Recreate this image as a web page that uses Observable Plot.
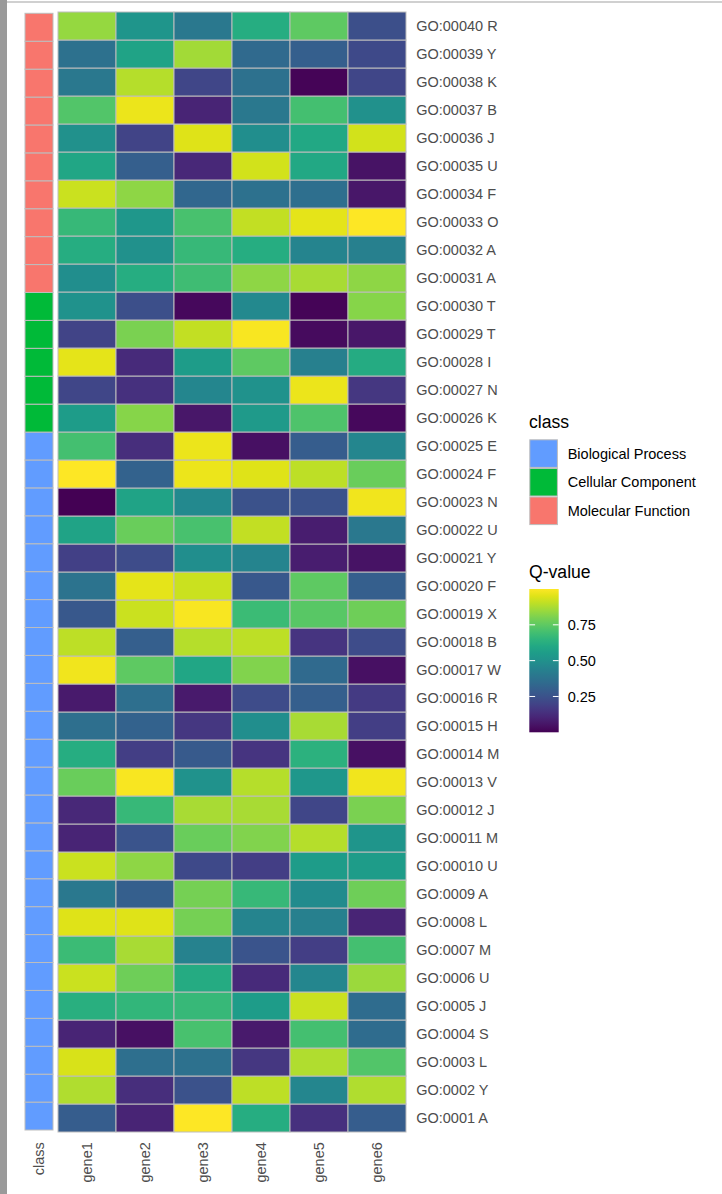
<!DOCTYPE html>
<html><head><meta charset="utf-8">
<script src="https://cdn.jsdelivr.net/npm/d3@7"></script>
<script src="https://cdn.jsdelivr.net/npm/@observablehq/plot@0.6"></script>
<style>
html,body{margin:0;padding:0;width:722px;height:1194px;overflow:hidden;background:#fff;font-family:"Liberation Sans",Arial,sans-serif;}
#page{position:relative;width:722px;height:1194px;}
#page > *{position:absolute;}
</style></head><body><div id="page"></div>
<script>
// ---- data ----
const terms = ["GO:0001 A","GO:0002 Y","GO:0003 L","GO:0004 S","GO:0005 J","GO:0006 U","GO:0007 M","GO:0008 L","GO:0009 A","GO:00010 U",
  "GO:00011 M","GO:00012 J","GO:00013 V","GO:00014 M","GO:00015 H","GO:00016 R","GO:00017 W","GO:00018 B","GO:00019 X","GO:00020 F",
  "GO:00021 Y","GO:00022 U","GO:00023 N","GO:00024 F","GO:00025 E","GO:00026 K","GO:00027 N","GO:00028 I","GO:00029 T","GO:00030 T",
  "GO:00031 A","GO:00032 A","GO:00033 O","GO:00034 F","GO:00035 U","GO:00036 J","GO:00037 B","GO:00038 K","GO:00039 Y","GO:00040 R"];
const genes = ["gene1","gene2","gene3","gene4","gene5","gene6"];
const termClass = [].concat(Array(25).fill("Biological Process"), Array(5).fill("Cellular Component"), Array(10).fill("Molecular Function"));
const classNames = ["Biological Process","Cellular Component","Molecular Function"];
const classColors = ["#619CFF","#00BA38","#F8766D"];
const gene1 = [0.29,0.88,0.94,0.10,0.63,0.92,0.68,0.95,0.40,0.92, 0.10,0.11,0.77,0.62,0.36,0.07,0.98,0.90,0.27,0.38, 0.19,0.58,0.00,1.00,0.70,0.55,0.21,0.96,0.20,0.51, 0.49,0.62,0.67,0.92,0.59,0.50,0.73,0.40,0.37,0.84];
const gene2 = [0.10,0.13,0.36,0.04,0.66,0.78,0.87,0.95,0.30,0.83, 0.26,0.67,0.99,0.18,0.31,0.36,0.75,0.30,0.92,0.96, 0.23,0.77,0.58,0.31,0.13,0.82,0.14,0.12,0.80,0.24, 0.62,0.50,0.53,0.83,0.30,0.20,0.97,0.89,0.58,0.52];
const gene3 = [1.00,0.25,0.37,0.71,0.67,0.61,0.44,0.79,0.79,0.22, 0.77,0.87,0.51,0.28,0.16,0.07,0.59,0.89,0.99,0.92, 0.49,0.71,0.47,0.97,0.97,0.06,0.46,0.55,0.91,0.02, 0.69,0.67,0.71,0.33,0.11,0.95,0.10,0.21,0.86,0.40];
const gene4 = [0.62,0.90,0.16,0.07,0.55,0.12,0.26,0.45,0.67,0.18, 0.81,0.87,0.89,0.15,0.49,0.23,0.81,0.90,0.68,0.27, 0.45,0.91,0.25,0.95,0.04,0.54,0.51,0.75,0.99,0.47, 0.83,0.62,0.91,0.37,0.93,0.49,0.40,0.37,0.34,0.62];
const gene5 = [0.14,0.46,0.88,0.70,0.92,0.46,0.18,0.43,0.48,0.55, 0.89,0.21,0.53,0.64,0.87,0.30,0.34,0.15,0.74,0.75, 0.08,0.08,0.25,0.90,0.29,0.72,0.97,0.43,0.03,0.01, 0.87,0.45,0.96,0.36,0.60,0.60,0.70,0.01,0.30,0.75];
const gene6 = [0.29,0.88,0.73,0.35,0.35,0.85,0.70,0.10,0.78,0.55, 0.52,0.80,0.98,0.04,0.18,0.17,0.04,0.23,0.78,0.30, 0.05,0.40,0.98,0.77,0.46,0.02,0.16,0.61,0.06,0.82, 0.83,0.43,1.00,0.06,0.05,0.93,0.50,0.21,0.22,0.24];
const colorTicks = [0.25, 0.5, 0.75];

// ---- build tables ----
const geneValues = [gene1,gene2,gene3,gene4,gene5,gene6];
const cells = [];
terms.forEach((t,i) => genes.forEach((g,j) => cells.push({term:t, gene:g, q:geneValues[j][i]})));
const classData = terms.map((t,i) => ({term:t, col:"class", cls:termClass[i]}));
const yDomain = terms.slice().reverse();
const page = document.getElementById("page");
const FONT = "Liberation Sans, Arial, sans-serif";

// page decorations
const bar = document.createElement("div");
Object.assign(bar.style,{left:"0px",top:"0px",width:"7px",height:"1194px",background:"#9a9a9a"});
page.appendChild(bar);
const line = document.createElement("div");
Object.assign(line.style,{left:"7px",top:"1px",width:"715px",height:"1.5px",background:"#d0d0d0"});
page.appendChild(line);

// class column
const clsPlot = Plot.plot({
  width: 60, height: 1194,
  marginLeft: 24.3, marginRight: 6.7, marginTop: 13.3, marginBottom: 64,
  style: {background:"transparent", fontFamily: FONT, fontSize:"14.5px", color:"#4d4d4d", overflow:"visible"},
  x: {domain:["class"], padding:0, label:null, tickSize:0, tickPadding:11.7, tickRotate:-90},
  y: {domain:yDomain, padding:0, axis:null},
  color: {domain:classNames, range:classColors},
  marks: [Plot.cell(classData, {x:"col", y:"term", fill:"cls", stroke:"#bdbdbd", strokeWidth:1})]
});
clsPlot.style.left = "0px"; clsPlot.style.top = "0px";
page.appendChild(clsPlot);

// heatmap
const heat = Plot.plot({
  width: 520, height: 1194,
  marginLeft: 56, marginRight: 112.7, marginTop: 11.7, marginBottom: 60.7,
  style: {background:"transparent", fontFamily: FONT, fontSize:"14.5px", color:"#4d4d4d", overflow:"visible"},
  x: {domain:genes, padding:0, label:null, axis:"bottom", tickSize:0, tickPadding:8.4, tickRotate:-90},
  y: {domain:yDomain, padding:0, label:null, axis:"right", tickSize:0, tickPadding:8.4},
  color: {type:"linear", scheme:"viridis", domain:[0,1]},
  marks: [Plot.cell(cells, {x:"gene", y:"term", fill:"q", stroke:"#bdbdbd", strokeWidth:1})]
});
heat.style.left = "0px"; heat.style.top = "0px";
page.appendChild(heat);

// legends (ggplot-style, vertical), built from the plots' own scales
const cScale = clsPlot.scale("color");
const qScale = heat.scale("color");
const ns = "http://www.w3.org/2000/svg";
const lg = d3.create("svg").attr("xmlns", ns).attr("width", 200).attr("height", 1194)
  .style("left","522px").style("top","0px").style("font-family", FONT);
const ox = -522;
lg.append("text").attr("x", 529 + ox).attr("y", 428.3).attr("font-size", 17.6).attr("fill","#000").text("class");
cScale.domain.forEach((c, i) => {
  const y0 = 439.3 + i * 28.6;
  lg.append("rect").attr("x", 529.8 + ox).attr("y", y0 + 0.5).attr("width", 27.6).attr("height", 27.6)
    .attr("fill", cScale.apply(c)).attr("stroke", "#bdbdbd").attr("stroke-width", 1);
  lg.append("text").attr("x", 567.7 + ox).attr("y", y0 + 14.3 + 5.2).attr("font-size", 14.5).attr("fill","#000").text(c);
});
lg.append("text").attr("x", 529 + ox).attr("y", 578).attr("font-size", 17.6).attr("fill","#000").text("Q-value");
const grad = lg.append("defs").append("linearGradient").attr("id","qgrad").attr("x1",0).attr("y1",1).attr("x2",0).attr("y2",0);
d3.range(0, 1.0001, 0.05).forEach(t => grad.append("stop").attr("offset", t).attr("stop-color", qScale.apply(qScale.domain[0] + t*(qScale.domain[1]-qScale.domain[0]))));
const barTop = 589, barBot = 732.3, bx0 = 529.3, bx1 = 558.7;
lg.append("rect").attr("x", bx0 + ox).attr("y", barTop).attr("width", bx1 - bx0).attr("height", barBot - barTop).attr("fill","url(#qgrad)");
const yq = d3.scaleLinear().domain(qScale.domain).range([barBot, barTop]);
colorTicks.forEach(v => {
  const y = yq(v);
  lg.append("line").attr("x1", bx0 + ox).attr("x2", bx0 + ox + 5.8).attr("y1", y).attr("y2", y).attr("stroke","#fff").attr("stroke-width",1);
  lg.append("line").attr("x1", bx1 + ox - 5.8).attr("x2", bx1 + ox).attr("y1", y).attr("y2", y).attr("stroke","#fff").attr("stroke-width",1);
  lg.append("text").attr("x", 567.7 + ox).attr("y", y + 5.2).attr("font-size", 14.5).attr("fill","#000").text(d3.format(".2f")(v));
});
page.appendChild(lg.node());
</script>
</body></html>
